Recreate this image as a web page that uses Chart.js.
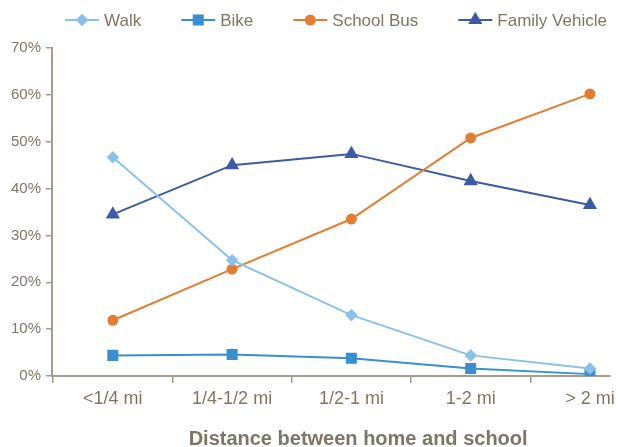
<!DOCTYPE html>
<html>
<head>
<meta charset="utf-8">
<script src="https://cdn.jsdelivr.net/npm/chart.js@4/dist/chart.umd.min.js"></script>
<style>
  html, body { margin: 0; padding: 0; background: #fff; overflow: hidden; }
  #wrap { width: 620px; height: 447px; position: relative; }
</style>
</head>
<body>
<div id="wrap"><canvas id="modeChart"></canvas></div>
<script>
const distances = ['<1/4 mi', '1/4-1/2 mi', '1/2-1 mi', '1-2 mi', '> 2 mi'];
const walk = [46.7, 24.7, 13.0, 4.4, 1.6];
const bike = [4.4, 4.6, 3.8, 1.6, 0.4];
const schoolBus = [11.9, 22.8, 33.5, 50.8, 60.2];
const familyVehicle = [34.5, 45.0, 47.4, 41.6, 36.5];
const percentTicks = [0, 10, 20, 30, 40, 50, 60, 70];
const xTitle = 'Distance between home and school';

const textColor = '#7f7565';
const axisColor = '#a59c8c';
const fontFamily = '"Liberation Sans", Arial, sans-serif';

function toPoints(values) {
    return values.map((v, i) => ({ x: i, y: v }));
}

// legend drawn as a short line with the marker on it, plus the x axis title
const chartLabels = {
    id: 'chartLabels',
    afterDraw(chart) {
        const ctx = chart.ctx;
        const area = chart.chartArea;
        const sets = chart.data.datasets;
        const lineLen = 34, textGap = 5, itemGap = 40, y = 20;
        ctx.save();
        ctx.font = '17px ' + fontFamily;
        const widths = sets.map(ds => lineLen + textGap + ctx.measureText(ds.label).width);
        const total = widths.reduce((a, b) => a + b, 0) + itemGap * (sets.length - 1);
        let x = (area.left + chart.width) / 2 - total / 2;
        sets.forEach((ds, i) => {
            ctx.strokeStyle = ds.borderColor;
            ctx.lineWidth = 2;
            ctx.beginPath();
            ctx.moveTo(x, y);
            ctx.lineTo(x + lineLen, y);
            ctx.stroke();
            ctx.fillStyle = ds.pointBackgroundColor;
            Chart.helpers.drawPoint(ctx, {
                pointStyle: ds.pointStyle,
                radius: ds.pointRadius,
                rotation: 0,
                borderWidth: 0
            }, x + lineLen / 2, y);
            ctx.fillStyle = textColor;
            ctx.textAlign = 'left';
            ctx.textBaseline = 'middle';
            ctx.fillText(ds.label, x + lineLen + textGap, y + 1);
            x += widths[i] + itemGap;
        });

        ctx.font = 'bold 20px ' + fontFamily;
        ctx.textAlign = 'center';
        ctx.fillText(xTitle, (area.left + area.right) / 2 + 27, chart.height - 8);
        ctx.restore();
    }
};

function series(label, values, color, style, radius) {
    return {
        label: label,
        data: toPoints(values),
        borderColor: color,
        backgroundColor: color,
        pointBackgroundColor: color,
        pointBorderWidth: 0,
        pointStyle: style,
        pointRadius: radius,
        pointHoverRadius: radius,
        borderWidth: 2,
        tension: 0
    };
}

new Chart('modeChart', {
    type: 'line',
    data: {
        datasets: [
            series('Walk', walk, '#8ac1e8', 'rectRot', 6.3),
            series('Bike', bike, '#3a8fd1', 'rect', 7.8),
            series('School Bus', schoolBus, '#e27d32', 'circle', 5.5),
            series('Family Vehicle', familyVehicle, '#3c5aa6', 'triangle', 8.2)
        ]
    },
    plugins: [chartLabels],
    options: {
        responsive: true,
        maintainAspectRatio: false,
        animation: false,
        layout: {
            padding: { top: 48, right: 8, left: 0, bottom: 0 }
        },
        plugins: {
            legend: { display: false },
            tooltip: { enabled: false }
        },
        scales: {
            x: {
                type: 'linear',
                min: -0.51,
                max: 4.17,
                afterBuildTicks: scale => {
                    scale.ticks = distances.map((d, i) => ({ value: i }));
                },
                afterFit: scale => {
                    scale.height = 71;
                },
                ticks: {
                    callback: v => distances[v],
                    color: textColor,
                    font: { family: fontFamily, size: 18 },
                    padding: 5,
                    maxRotation: 0,
                    autoSkip: false
                },
                grid: {
                    offset: true,
                    drawOnChartArea: false,
                    tickLength: 7,
                    color: axisColor,
                    lineWidth: 1.5
                },
                border: { color: axisColor, width: 2 }
            },
            y: {
                min: 0,
                max: 70,
                afterBuildTicks: scale => {
                    scale.ticks = percentTicks.map(v => ({ value: v }));
                },
                afterFit: scale => {
                    scale.width = 52;
                },
                ticks: {
                    callback: v => v + '%',
                    color: textColor,
                    font: { family: fontFamily, size: 15 },
                    padding: 5
                },
                grid: {
                    drawOnChartArea: false,
                    tickLength: 6,
                    color: axisColor,
                    lineWidth: 1.5
                },
                border: { color: axisColor, width: 2 }
            }
        }
    }
});
</script>
</body>
</html>
